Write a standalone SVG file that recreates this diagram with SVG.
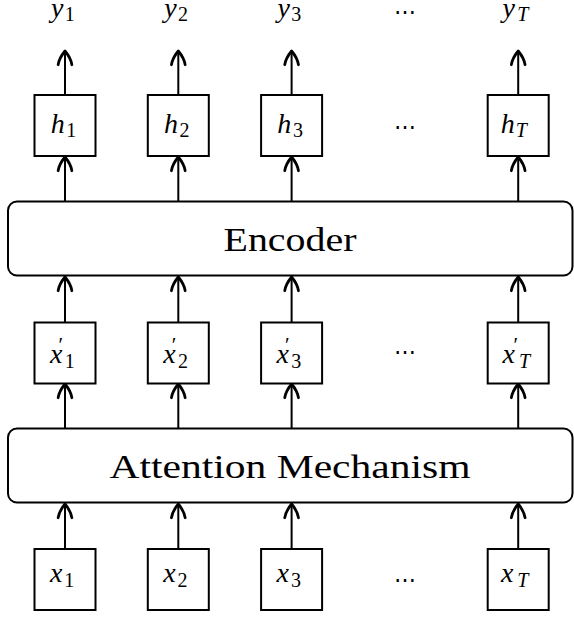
<svg xmlns="http://www.w3.org/2000/svg" width="574" height="617" viewBox="0 0 574 617">
<style>
.box{fill:#fff;stroke:#000;stroke-width:2}
.big{fill:none;stroke:#000;stroke-width:2}
.m{font-family:"Liberation Serif",serif;font-style:italic;font-size:28px;fill:#000}
.s{font-style:normal;font-size:20px}
.st{font-style:italic;font-size:20px}
.pr{font-style:normal;font-size:21px}
.lbl{font-family:"Liberation Serif",serif;font-size:34px;fill:#000}
.dots{font-family:"DejaVu Serif",serif;font-size:22px;fill:#000}
.arr line{stroke:#000;stroke-width:2;marker-end:url(#ah)}
</style>
<defs>
<marker id="ah" markerUnits="userSpaceOnUse" orient="auto" refX="0" refY="0" markerWidth="20" markerHeight="20" viewBox="-14 -8 16 16" overflow="visible">
<path d="M-11,-5.5 C-8,-5 -3,-2.5 0,0 C-3,2.5 -8,5 -11,5.5" fill="none" stroke="#000" stroke-width="2.2" stroke-linejoin="round" stroke-linecap="round"/>
</marker>
</defs>

<g id="connectors" class="arr">
<line x1="65" y1="95" x2="65" y2="51"/>
<line x1="178.3" y1="95" x2="178.3" y2="51"/>
<line x1="291.6" y1="95" x2="291.6" y2="51"/>
<line x1="518.2" y1="95" x2="518.2" y2="51"/>
<line x1="65" y1="201.5" x2="65" y2="157"/>
<line x1="178.3" y1="201.5" x2="178.3" y2="157"/>
<line x1="291.6" y1="201.5" x2="291.6" y2="157"/>
<line x1="518.2" y1="201.5" x2="518.2" y2="157"/>
<line x1="65" y1="322.5" x2="65" y2="277"/>
<line x1="178.3" y1="322.5" x2="178.3" y2="277"/>
<line x1="291.6" y1="322.5" x2="291.6" y2="277"/>
<line x1="518.2" y1="322.5" x2="518.2" y2="277"/>
<line x1="65" y1="428.5" x2="65" y2="384"/>
<line x1="178.3" y1="428.5" x2="178.3" y2="384"/>
<line x1="291.6" y1="428.5" x2="291.6" y2="384"/>
<line x1="518.2" y1="428.5" x2="518.2" y2="384"/>
<line x1="65" y1="549" x2="65" y2="504"/>
<line x1="178.3" y1="549" x2="178.3" y2="504"/>
<line x1="291.6" y1="549" x2="291.6" y2="504"/>
<line x1="518.2" y1="549" x2="518.2" y2="504"/>
</g>

<g id="y1"><text class="m" x="51" y="17">y<tspan class="s" x="64.7" y="21">1</tspan></text></g>
<g id="y2"><text class="m" x="164.3" y="17">y<tspan class="s" x="178" y="21">2</tspan></text></g>
<g id="y3"><text class="m" x="277.6" y="17">y<tspan class="s" x="291.3" y="21">3</tspan></text></g>
<g id="ydots"><text class="dots" x="405" y="11.7" text-anchor="middle" dominant-baseline="central">⋯</text></g>
<g id="yT"><text class="m" x="502.6" y="17">y<tspan class="st" x="517.3" y="21">T</tspan></text></g>

<g id="h1"><rect class="box" x="34.5" y="95" width="61" height="61"/><text class="m" x="50.7" y="133.3">h<tspan class="s" x="66.3" y="137">1</tspan></text></g>
<g id="h2"><rect class="box" x="147.8" y="95" width="61" height="61"/><text class="m" x="164" y="133.3">h<tspan class="s" x="179.6" y="137">2</tspan></text></g>
<g id="h3"><rect class="box" x="261.1" y="95" width="61" height="61"/><text class="m" x="277.3" y="133.3">h<tspan class="s" x="292.9" y="137">3</tspan></text></g>
<g id="hdots"><text class="dots" x="405" y="126" text-anchor="middle" dominant-baseline="central">⋯</text></g>
<g id="hT"><rect class="box" x="487.7" y="95" width="61" height="61"/><text class="m" x="500.7" y="133.3">h<tspan class="st" x="515.7" y="137">T</tspan></text></g>

<g id="encoder"><rect class="big" x="8" y="201.5" width="564.5" height="74" rx="9"/><text class="lbl" x="290" y="250.7" text-anchor="middle" textLength="133" lengthAdjust="spacingAndGlyphs">Encoder</text></g>

<g id="xp1"><rect class="box" x="34.5" y="322.5" width="61" height="61"/><text class="m" x="50" y="363.3">x<tspan class="pr" x="58.5" y="352">′</tspan><tspan class="s" x="64.7" y="368">1</tspan></text></g>
<g id="xp2"><rect class="box" x="147.8" y="322.5" width="61" height="61"/><text class="m" x="163.3" y="363.3">x<tspan class="pr" x="171.8" y="352">′</tspan><tspan class="s" x="178" y="368">2</tspan></text></g>
<g id="xp3"><rect class="box" x="261.1" y="322.5" width="61" height="61"/><text class="m" x="276.6" y="363.3">x<tspan class="pr" x="285.1" y="352">′</tspan><tspan class="s" x="291.3" y="368">3</tspan></text></g>
<g id="xpdots"><text class="dots" x="405" y="351.7" text-anchor="middle" dominant-baseline="central">⋯</text></g>
<g id="xpT"><rect class="box" x="487.7" y="322.5" width="61" height="61"/><text class="m" x="502.6" y="363.3">x<tspan class="pr" x="513.5" y="352">′</tspan><tspan class="st" x="519" y="368">T</tspan></text></g>

<g id="attention"><rect class="big" x="8" y="428.5" width="564.5" height="74" rx="9"/><text class="lbl" x="290" y="477.7" text-anchor="middle" textLength="361" lengthAdjust="spacingAndGlyphs">Attention Mechanism</text></g>

<g id="x1"><rect class="box" x="34.5" y="549" width="61" height="61"/><text class="m" x="50" y="582">x<tspan class="s" x="64.3" y="587">1</tspan></text></g>
<g id="x2"><rect class="box" x="147.8" y="549" width="61" height="61"/><text class="m" x="163.3" y="582">x<tspan class="s" x="177.6" y="587">2</tspan></text></g>
<g id="x3"><rect class="box" x="261.1" y="549" width="61" height="61"/><text class="m" x="276.6" y="582">x<tspan class="s" x="290.9" y="587">3</tspan></text></g>
<g id="xdots"><text class="dots" x="405" y="579.3" text-anchor="middle" dominant-baseline="central">⋯</text></g>
<g id="xT"><rect class="box" x="487.7" y="549" width="61" height="61"/><text class="m" x="501" y="582">x<tspan class="st" x="517.3" y="587">T</tspan></text></g>
</svg>
